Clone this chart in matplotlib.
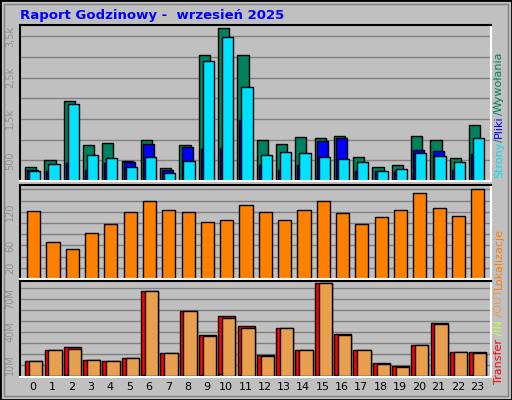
import matplotlib.pyplot as plt

hours = list(range(24))
hits = [331, 500, 1925, 862, 910, 476, 983, 307, 862, 3036, 3688, 3036,
        983, 886, 1055, 1031, 1080, 572, 331, 379, 1080, 983, 548, 1345]
pages = [258, 234, 427, 258, 427, 452, 886, 258, 814, 765, 790, 1466,
         379, 258, 379, 966, 1031, 234, 234, 234, 741, 717, 258, 645]
files = [234, 403, 1852, 620, 548, 331, 572, 186, 476, 2890, 3470, 2263,
         620, 693, 669, 572, 524, 452, 234, 283, 669, 600, 452, 1031]
sites = [122, 66, 54, 82, 99, 120, 140, 124, 120, 102, 106, 132,
         120, 106, 124, 140, 118, 99, 111, 124, 154, 127, 113, 161]
transfer = [13.9, 23.9, 25.8, 14.8, 13.9, 15.8, 76.7, 21.2, 58.5, 36.7, 53.9, 44.8,
            18.5, 43.0, 23.9, 83.9, 37.6, 23.9, 12.1, 9.4, 27.6, 47.6, 22.1, 22.1]
t_in = [0.3, 0.3, 1.0, 0.3, 0.3, 0.3, 0.5, 0.3, 0.3, 1.0, 1.5, 1.2,
        0.3, 0.3, 0.3, 0.3, 0.5, 0.3, 0.3, 0.3, 0.3, 0.5, 0.3, 1.0]
t_out = [13.9, 23.9, 24.8, 14.8, 13.9, 15.8, 76.7, 21.2, 58.5, 35.8, 52.1, 43.0,
         17.6, 43.0, 23.9, 83.9, 36.7, 23.9, 11.2, 8.5, 27.6, 46.7, 22.1, 21.2]

W, H = 512, 400
fig = plt.figure(figsize=(W / 100, H / 100), dpi=100, facecolor='#C0C0C0')
fig.add_artist(plt.Rectangle((0, 0), 1, 1, transform=fig.transFigure,
                             fill=False, edgecolor='black', linewidth=2))
fig.add_artist(plt.Rectangle((4 / W, 4 / H), 1 - 8 / W, 1 - 8 / H, transform=fig.transFigure,
                             fill=False, edgecolor='#808080', linewidth=1))


def panel(y0, y1):
    ax = fig.add_axes([20 / W, 1 - y1 / H, 471 / W, (y1 - y0) / H])
    ax.set_facecolor('#C0C0C0')
    ax.set_xlim(0, 24.4)
    for s in ax.spines.values():
        s.set_color('white')
        s.set_linewidth(1.5)
    ax.spines['left'].set_color('black')
    ax.spines['top'].set_color('black')
    ax.tick_params(length=0, labelsize=7, labelcolor='#909090')
    ax.set_xticks([])
    ax.set_axisbelow(True)
    ax.grid(axis='y', color='#808080', linewidth=1)
    return ax


kw = dict(align='edge', edgecolor='black', linewidth=1)

ax1 = panel(25, 181)
ax1.bar([h + 0.26 for h in hours], hits, width=0.58, color='#00805C', **kw)
ax1.bar([h + 0.37 for h in hours], pages, width=0.58, color='#0000FF', **kw)
ax1.bar([h + 0.47 for h in hours], files, width=0.58, color='#00E0FF', **kw)
ax1.set_ylim(0, 3770)
ax1.set_yticks(range(500, 3501, 500))
ax1.set_yticklabels(['500', '', '1,5k', '', '2,5k', '', '3,5k'], rotation=90, va='center')

ax2 = panel(185, 279)
ax2.bar([h + 0.37 for h in hours], sites, width=0.68, color='#FF8000', **kw)
ax2.set_ylim(0, 168)
ax2.set_yticks(range(20, 161, 20))
ax2.set_yticklabels(['20', '', '60', '', '', '120', '', ''], rotation=90, va='center')

ax3 = panel(281, 377)
ax3.bar([h + 0.27 for h in hours], transfer, width=0.89, color='#FF0000', **kw)
ax3.bar([h + 0.32 for h in hours], t_in, width=0.3, color='#FFFF80', **kw)
ax3.bar([h + 0.47 for h in hours], t_out, width=0.69, color='#E8A050', **kw)
ax3.set_ylim(-1, 86)
ax3.set_yticks(range(10, 81, 10))
ax3.set_yticklabels(['10M', '', '', '40M', '', '', '70M', ''], rotation=90, va='center')
ax3.set_xticks([h + 0.68 for h in hours])
ax3.set_xticklabels([str(h) for h in hours], fontsize=8, color='black')

fig.text(20 / W, 1 - 16 / H, 'Raport Godzinowy -  wrzesień 2025', color='#0000FF',
         fontsize=9.5, fontweight='bold', va='center')

# multi-coloured rotated labels on the right, drawn bottom to top
renderer = fig.canvas.get_renderer()


def vlabel(y_bottom, parts):
    y = 1 - y_bottom / H
    for t, c in parts:
        txt = fig.text(499 / W, y, t, color=c, rotation=90, fontsize=8,
                       ha='center', va='bottom')
        ext = txt.get_window_extent(renderer)
        y += ext.height / H


vlabel(178, [('Strony', '#00E0FF'), ('/', '#00805C'), ('Pliki', '#0000FF'),
             ('/', '#00805C'), ('Wywołania', '#00805C')])
vlabel(289, [('Lokalizacje', '#FF8000')])
vlabel(384, [('Transfer', '#FF0000'), (' /IN', '#C0FF40'), (' /OUT', '#E8A050')])

fig.savefig('out.png', dpi=100, facecolor=fig.get_facecolor())
